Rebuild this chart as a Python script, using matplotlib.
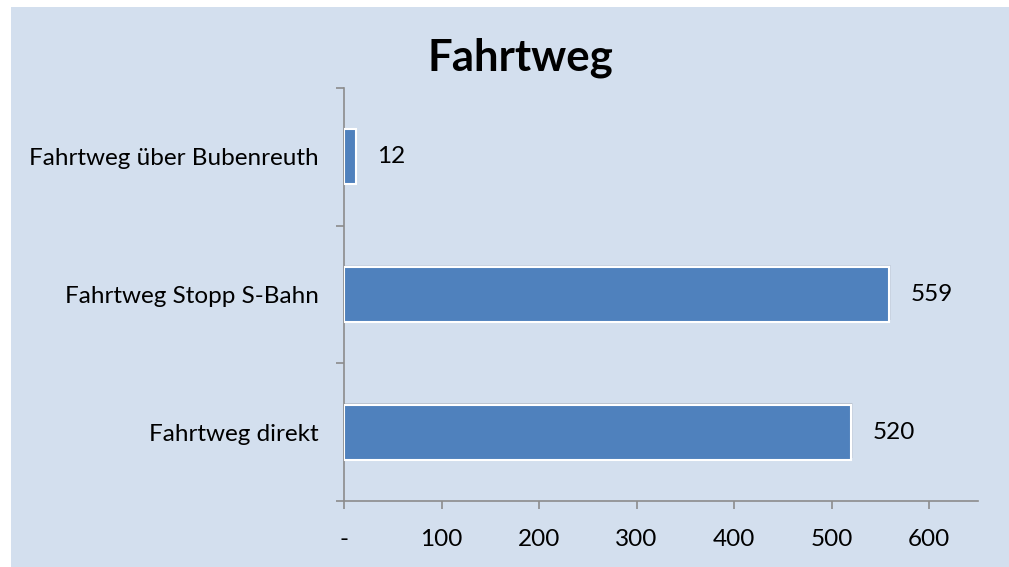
import matplotlib.pyplot as plt
from matplotlib.patches import Rectangle

categories = ['Fahrtweg direkt', 'Fahrtweg Stopp S-Bahn', 'Fahrtweg über Bubenreuth']
values = [520, 559, 12]
xticks = [0, 100, 200, 300, 400, 500, 600]
xtick_labels = ['-', '100', '200', '300', '400', '500', '600']

bg = '#D3DFEE'
bar_color = '#4F81BD'
axis_color = '#8C8C8C'

plt.rcParams['font.family'] = ['Lato', 'DejaVu Sans']

W, H = 1009, 567
fig = plt.figure(figsize=(W / 100, H / 100), dpi=100)
fig.patch.set_facecolor('white')
fig.patches.append(Rectangle((11 / W, 0), 1 - 11 / W, 1 - 7 / H,
                             transform=fig.transFigure, facecolor=bg,
                             edgecolor='none', zorder=-10))

# axes box: x from 344 to 978 px, y from 88 to 501 px
ax = fig.add_axes([344 / W, 1 - 501 / H, (978 - 344) / W, (501 - 88) / H])
ax.set_facecolor('none')

pos = list(range(len(categories)))
# soft shadow under the bars
for dx, dy, a in [(4, -4, 0.08), (3, -3, 0.10), (2, -2, 0.12)]:
    ax.barh([p - dy * 0.003 for p in pos], [v + dx * 0.35 for v in values],
            height=0.4, color='#404040', alpha=a, zorder=2, linewidth=0)
ax.barh(pos, values, height=0.4, color=bar_color, edgecolor='white',
        linewidth=1.5, zorder=3)

fs = 17.5
for p, v in zip(pos, values):
    ax.text(v + 22, p, str(v), va='center', ha='left', fontsize=fs,
            color='black', zorder=4)

ax.set_xlim(0, 650)
ax.set_ylim(-0.5, len(categories) - 0.5)
ax.set_xticks(xticks)
ax.set_xticklabels(xtick_labels, fontsize=fs)
ax.set_yticks(pos)
ax.set_yticklabels(categories, fontsize=fs)
ax.set_yticks([-0.5, 0.5, 1.5, 2.5], minor=True)
ax.tick_params(axis='y', which='major', length=0, pad=18)
ax.tick_params(axis='y', which='minor', length=6, color=axis_color, width=1.2)
ax.tick_params(axis='x', length=6, color=axis_color, width=1.2, pad=14)

for side in ['top', 'right']:
    ax.spines[side].set_visible(False)
for side in ['left', 'bottom']:
    ax.spines[side].set_color(axis_color)
    ax.spines[side].set_linewidth(1.2)

fig.text(520 / W, 1 - 58 / H, 'Fahrtweg', ha='center', va='center',
         fontsize=31.5, fontweight='bold')

fig.savefig('out.png', dpi=100, facecolor=fig.get_facecolor())
